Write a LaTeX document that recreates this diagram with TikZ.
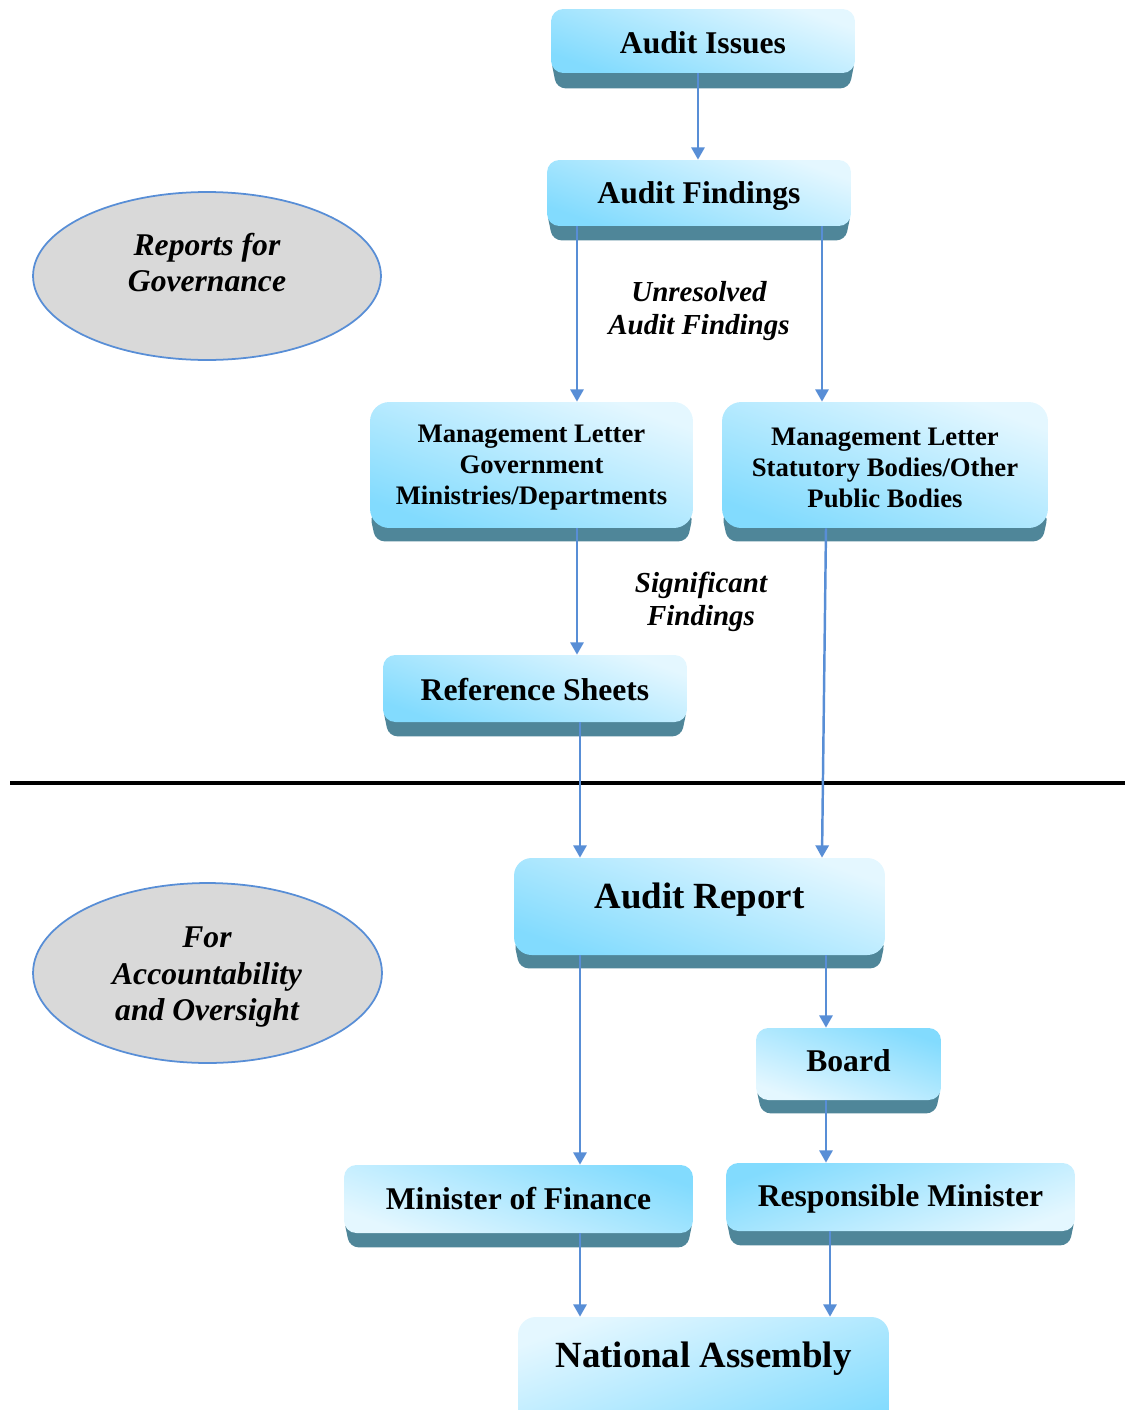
\documentclass[tikz,border=0pt]{standalone}
\usepackage{fontspec}
\setmainfont{Liberation Serif}
\usetikzlibrary{calc,shapes.geometric,arrows.meta}

\definecolor{boxlight}{RGB}{228,247,255}
\definecolor{boxdark}{RGB}{130,219,254}
\definecolor{bandc}{RGB}{79,134,153}
\definecolor{linkc}{RGB}{88,142,214}
\definecolor{ovalfill}{RGB}{217,217,217}

\pgfdeclarelayer{bands}
\pgfsetlayers{bands,main}

\tikzset{
  box/.style={rectangle, rounded corners=7pt, inner sep=0pt,
    top color=boxlight, bottom color=boxdark, shading angle=-20},
  shadeTL/.style={top color=boxdark, bottom color=boxlight, shading angle=20},
  shadeTR/.style={top color=boxdark, bottom color=boxlight, shading angle=-20},
  shadeLTL/.style={top color=boxlight, bottom color=boxdark, shading angle=20},
  bigbox/.style={rounded corners=10pt},
  mlbox/.style={rounded corners=11pt},
  boxtext/.style={inner sep=0pt, align=center, font=\fontsize{18}{21}\selectfont\bfseries},
  bigtext/.style={inner sep=0pt, align=center, font=\fontsize{21}{24}\selectfont\bfseries},
  mltext/.style={inner sep=0pt, align=center, font=\fontsize{15.2}{17.6}\selectfont\bfseries},
  oval/.style={ellipse, draw=linkc, line width=1pt, fill=ovalfill, inner sep=0pt},
  ovaltext/.style={inner sep=0pt, align=center, font=\fontsize{18}{21}\selectfont\bfseries\itshape},
  flowlabel/.style={inner sep=0pt, align=center, font=\fontsize{16.5}{18.7}\selectfont\bfseries\itshape},
  arr/.style={draw=linkc, line width=1.4pt, -{Triangle[length=7pt,width=7.5pt]}},
}

% dark base strip under a box; #2 is its depth below the box
\newcommand\boxband[2]{%
  \fill[bandc, rounded corners=5pt]
    ($(#1.south west)+(0,-15)$) -- ($(#1.south west)+(6,#2)$) --
    ($(#1.south east)+(-6,#2)$) -- ($(#1.south east)+(0,-15)$) -- cycle;}

\begin{document}
\begin{tikzpicture}[x=0.02cm, y=-0.02cm]
\useasboundingbox (0,0) rectangle (1125,1410);
\clip (0,0) rectangle (1125,1410);

% side ovals
\node[oval, minimum width=6.96cm, minimum height=3.36cm] (govoval) at (207,276) {};
\node[ovaltext] (govtext) at (207,262.5) {Reports for\\Governance};
\node[oval, minimum width=6.98cm, minimum height=3.6cm] (accoval) at (207.5,973) {};
\node[ovaltext] (acctext) at (207,977) {For\\Accountability\\and Oversight};

% separator
\draw[line width=2.3pt] (10,783) -- (1125,783);

% boxes
\node[box, minimum width=6.08cm, minimum height=1.28cm] (issues) at (703,41) {};
\node[box, minimum width=6.08cm, minimum height=1.32cm] (findings) at (699,193) {};
\node[box, mlbox, minimum width=6.46cm, minimum height=2.52cm] (mlgov) at (531.5,465) {};
\node[box, mlbox, minimum width=6.52cm, minimum height=2.52cm] (mlstat) at (885,465) {};
\node[box, minimum width=6.08cm, minimum height=1.34cm] (refs) at (535,688.5) {};
\node[box, bigbox, minimum width=7.42cm, minimum height=1.94cm] (report) at (699.5,906.5) {};
\node[box, shadeTR, minimum width=3.70cm, minimum height=1.44cm] (board) at (848.5,1064) {};
\node[box, shadeTR, minimum width=6.98cm, minimum height=1.36cm] (mof) at (518.5,1199) {};
\node[box, shadeTL, minimum width=6.98cm, minimum height=1.36cm] (rm) at (900.5,1197) {};
\node[box, bigbox, shadeLTL, minimum width=7.42cm, minimum height=2.46cm] (na) at (703.5,1378.5) {};

% box texts
\node[boxtext] (issuestext) at (703,43) {Audit Issues};
\node[boxtext] (findingstext) at (699,196) {Audit Findings};
\node[mltext] (mlgovtext) at (531.5,468) {Management Letter\\Government\\Ministries/Departments};
\node[mltext] (mlstattext) at (885,468) {Management Letter\\Statutory Bodies/Other\\Public Bodies};
\node[boxtext] (refstext) at (535,690) {Reference Sheets};
\node[bigtext] (reporttext) at (699.5,900) {Audit Report};
\node[boxtext] (boardtext) at (848.5,1061) {Board};
\node[boxtext] (moftext) at (518.5,1199) {Minister of Finance};
\node[boxtext] (rmtext) at (900.5,1199) {Responsible Minister};
\node[bigtext] (natext) at (703.5,1359) {National Assembly};

% flow labels
\node[flowlabel] (unres) at (699,311) {Unresolved\\Audit Findings};
\node[flowlabel] (signif) at (701,602) {Significant\\Findings};

\begin{pgfonlayer}{bands}
  \boxband{issues}{15}
  \boxband{findings}{14}
  \boxband{mlgov}{13}
  \boxband{mlstat}{13}
  \boxband{refs}{14}
  \boxband{report}{13}
  \boxband{board}{13}
  \boxband{mof}{14}
  \boxband{rm}{14}
\end{pgfonlayer}

% connectors
\draw[arr] (issues.south -| 698,0) -- (findings.north -| 698,0);
\draw[arr] (findings.south -| 577,0) -- (mlgov.north -| 577,0);
\draw[arr] (findings.south -| 822,0) -- (mlstat.north -| 822,0);
\draw[arr] (mlgov.south -| 577,0) -- (refs.north -| 577,0);
\draw[arr] (refs.south -| 580,0) -- (report.north -| 580,0);
\draw[arr] (mlstat.south -| 826,0) -- (report.north -| 822,0);
\draw[arr] (report.south -| 580,0) -- (mof.north -| 580,0);
\draw[arr] (report.south -| 826,0) -- (board.north -| 826,0);
\draw[arr] (board.south -| 826,0) -- (rm.north -| 826,0);
\draw[arr] (mof.south -| 580,0) -- (na.north -| 580,0);
\draw[arr] (rm.south -| 830,0) -- (na.north -| 830,0);
\end{tikzpicture}
\end{document}
